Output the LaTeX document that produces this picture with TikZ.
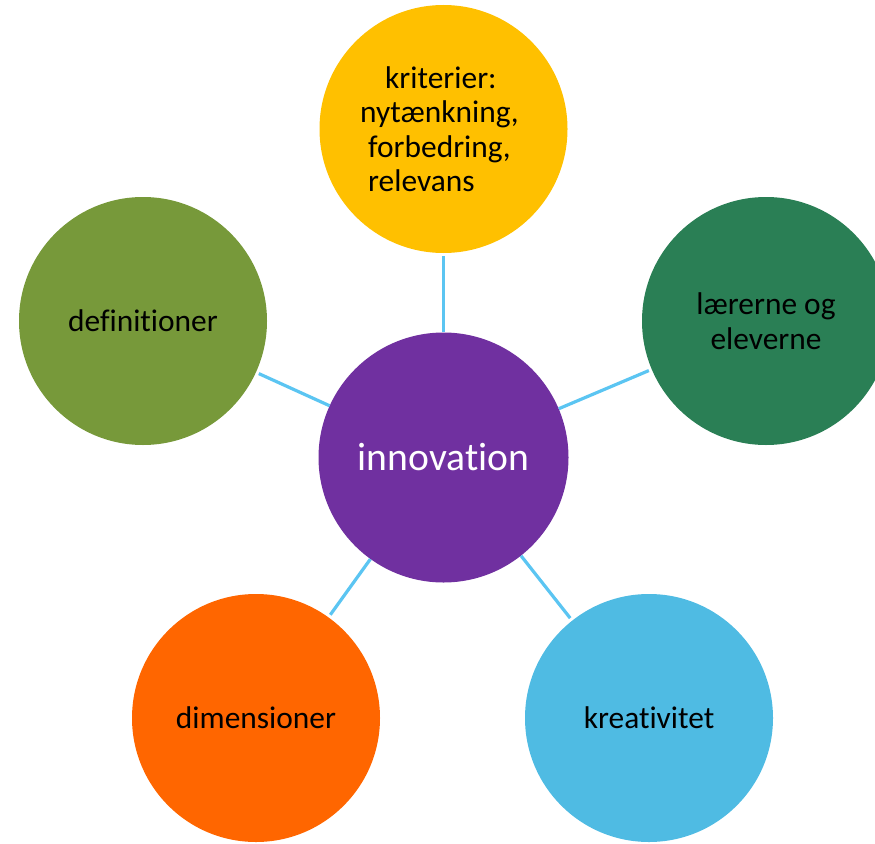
\documentclass[tikz,border=0pt]{standalone}
\usepackage{fontspec}
\setmainfont{Carlito}[RawFeature={-liga;-clig;-dlig}]
\definecolor{purp}{HTML}{7030A0}
\definecolor{gold}{HTML}{FFC000}
\definecolor{dkgreen}{HTML}{2A7F55}
\definecolor{olive}{HTML}{77993A}
\definecolor{orng}{HTML}{FF6600}
\definecolor{skyb}{HTML}{4FBBE3}
\definecolor{linkblue}{HTML}{5BC5F2}
\begin{document}
\begin{tikzpicture}[x=1pt,y=-1pt,
  bub/.style={circle, minimum size=248pt, inner sep=0pt, text=black,
    font=\fontsize{31.4}{34.5}\selectfont, align=center},
  link/.style={draw=linkblue, line width=3.2pt}]
\useasboundingbox (0,0) rectangle (875,843);
\node[bub, fill=purp, minimum size=250pt, text=white,
  font=\fontsize{39.6}{44}\selectfont] (c) at (443.5,457.5) {innova\kern0pt t\kern0pt ion};
\node[bub, fill=gold, align=left] (t) at (443.5,129)
  {\hspace*{25pt}kriterier:\\nytænkning,\kern8pt\\\hspace*{8pt}forbedring,\\\hspace*{8pt}relevans};
\node[bub, fill=dkgreen] (r) at (766,321) {lærerne og\\eleverne};
\node[bub, fill=olive] (l) at (143,321) {def\kern0pt initioner};
\node[bub, fill=orng] (bl) at (256,718) {dimensioner};
\node[bub, fill=skyb] (br) at (649,718) {kreativitet};
\draw[link, shorten >=3pt] (c) -- (t);
\draw[link, shorten >=3pt] (c) -- (r);
\draw[link, shorten >=3pt] (c) -- (l);
\draw[link, shorten >=3pt] (c) -- (bl);
\draw[link, shorten >=3pt] (c) -- (br);
\end{tikzpicture}
\end{document}
